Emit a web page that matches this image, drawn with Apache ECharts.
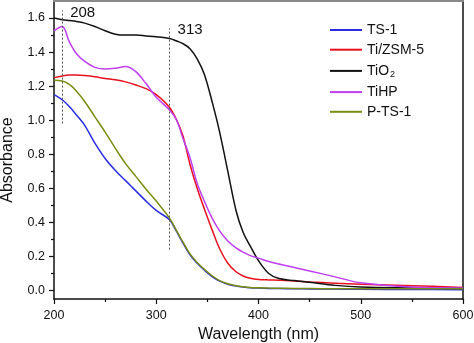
<!DOCTYPE html>
<html>
<head>
<meta charset="utf-8">
<script src="https://cdn.jsdelivr.net/npm/echarts@6/dist/echarts.min.js"></script>
<style>
  html, body { margin: 0; padding: 0; background: #fff; }
  #chart { width: 474px; height: 343px; }
</style>
</head>
<body>
<div id="chart"></div>
<script>
// UV-vis absorbance spectra of titanium-containing samples
const wavelength = [200, 208, 215, 222, 230, 240, 250, 260, 270, 280, 290, 300, 313, 320, 326, 333, 340, 347, 355, 362, 370, 378, 385, 392, 400, 410, 420, 435, 450, 475, 500, 550, 600];

const ts1    = [1.15, 1.12, 1.08, 1.03, 0.97, 0.865, 0.775, 0.705, 0.645, 0.585, 0.525, 0.47, 0.415, 0.345, 0.28, 0.21, 0.16, 0.12, 0.08, 0.055, 0.037, 0.026, 0.02, 0.016, 0.014, 0.012, 0.011, 0.01, 0.009, 0.008, 0.007, 0.006, 0.005];
const tiZsm5 = [1.25, 1.26, 1.265, 1.265, 1.262, 1.255, 1.245, 1.237, 1.225, 1.207, 1.185, 1.15, 1.075, 1.0, 0.91, 0.74, 0.60, 0.48, 0.35, 0.245, 0.16, 0.11, 0.085, 0.072, 0.065, 0.062, 0.06, 0.056, 0.05, 0.043, 0.037, 0.028, 0.018];
const tio2   = [1.60, 1.59, 1.585, 1.58, 1.57, 1.55, 1.525, 1.505, 1.50, 1.50, 1.495, 1.49, 1.48, 1.465, 1.45, 1.42, 1.36, 1.27, 1.10, 0.93, 0.70, 0.47, 0.34, 0.26, 0.175, 0.10, 0.07, 0.058, 0.048, 0.03, 0.02, 0.015, 0.012];
const tihp   = [1.525, 1.55, 1.46, 1.39, 1.345, 1.31, 1.30, 1.305, 1.315, 1.285, 1.215, 1.135, 1.06, 1.0, 0.895, 0.78, 0.63, 0.525, 0.42, 0.35, 0.29, 0.25, 0.225, 0.205, 0.19, 0.17, 0.155, 0.135, 0.115, 0.08, 0.045, 0.02, 0.015];
const pts1   = [1.235, 1.23, 1.21, 1.17, 1.11, 1.02, 0.93, 0.835, 0.745, 0.67, 0.595, 0.525, 0.425, 0.35, 0.285, 0.215, 0.165, 0.125, 0.085, 0.058, 0.04, 0.028, 0.022, 0.018, 0.016, 0.014, 0.013, 0.012, 0.011, 0.01, 0.01, 0.01, 0.01];

const seriesNames  = ['TS-1', 'Ti/ZSM-5', 'TiO2', 'TiHP', 'P-TS-1'];
const seriesColors = ['#2a2ee0', '#e8101e', '#111111', '#bf3ef0', '#7a8c12'];
const seriesValues = [ts1, tiZsm5, tio2, tihp, pts1];

// Marked absorption bands: wavelength, dotted line span, label height
const bandWavelength = [208, 313];
const bandLow  = [0.98, 0.24];
const bandHigh = [1.645, 1.54];
const bandLabelY = [1.632, 1.532];

const xTicks = [200, 300, 400, 500, 600];
const yTicks = [0, 0.2, 0.4, 0.6, 0.8, 1.0, 1.2, 1.4, 1.6];
const yMinorTicks = [0.1, 0.3, 0.5, 0.7, 0.9, 1.1, 1.3, 1.5];

const FONT = '"Liberation Sans", Arial, sans-serif';

const chart = echarts.init(document.getElementById('chart'), null, { renderer: 'canvas' });

const lineSeries = seriesNames.map((name, i) => ({
  name: name,
  type: 'line',
  data: wavelength.map((w, k) => [w, seriesValues[i][k]]),
  symbol: 'none',
  smooth: 0.35,
  lineStyle: { color: seriesColors[i], width: 1.5 },
  itemStyle: { color: seriesColors[i] },
  z: 3
}));

const bandSeries = {
  name: 'bands',
  type: 'line',
  data: [],
  silent: true,
  markLine: {
    silent: true,
    symbol: 'none',
    label: { show: false },
    lineStyle: { color: '#555', width: 1, type: [2, 2] },
    data: bandWavelength.map((w, i) => [{ coord: [w, bandLow[i]] }, { coord: [w, bandHigh[i]] }])
  },
  markPoint: {
    silent: true,
    symbol: 'circle',
    symbolSize: 0,
    label: {
      show: true,
      position: 'right',
      distance: 8,
      formatter: (p) => String(p.value),
      fontFamily: FONT,
      fontSize: 15,
      color: '#111'
    },
    data: bandWavelength.map((w, i) => ({ coord: [w, bandLabelY[i]], value: w }))
  }
};

chart.setOption({
  backgroundColor: '#fff',
  animation: false,
  grid: { left: 54, right: 11, top: 1, bottom: 44, containLabel: false, outerBoundsMode: 'none' },
  legend: {
    data: seriesNames,
    orient: 'vertical',
    left: 330,
    top: 23,
    padding: 0,
    itemWidth: 32,
    itemHeight: 2,
    itemGap: 5.7,
    icon: 'rect',
    formatter: (name) => name === 'TiO2' ? '{n|TiO}{s|2}' : '{n|' + name + '}',
    textStyle: {
      fontFamily: FONT,
      fontSize: 14,
      color: '#111',
      rich: {
        n: { fontFamily: FONT, fontSize: 14, color: '#111', lineHeight: 16 },
        s: { fontFamily: FONT, fontSize: 9, color: '#111', lineHeight: 16, padding: [8, 0, 0, 1] }
      }
    }
  },
  xAxis: [
    {
      type: 'value',
      min: 200,
      max: 600,
      interval: 100,
      name: 'Wavelength (nm)',
      nameLocation: 'middle',
      nameGap: 27,
      nameTextStyle: { fontFamily: FONT, fontSize: 16, color: '#111' },
      axisLine: { show: true, onZero: false, lineStyle: { color: '#111', width: 1.5 } },
      axisTick: { show: true, inside: false, length: 5, lineStyle: { color: '#111', width: 1.2 } },
      minorTick: { show: true, splitNumber: 2, length: 3, lineStyle: { color: '#111', width: 1.2 } },
      axisLabel: { fontFamily: FONT, fontSize: 12.5, color: '#111', margin: 10, customValues: xTicks },
      splitLine: { show: false },
      minorSplitLine: { show: false }
    },
    {
      type: 'value',
      position: 'top',
      min: 200,
      max: 600,
      axisLine: { show: true, onZero: false, lineStyle: { color: '#8a8a8a', width: 2 } },
      axisTick: { show: false },
      axisLabel: { show: false },
      splitLine: { show: false }
    }
  ],
  yAxis: [
    {
      type: 'value',
      min: -0.05,
      max: 1.7,
      position: 'left',
      name: 'Absorbance',
      nameLocation: 'middle',
      nameGap: 38,
      nameTextStyle: { fontFamily: FONT, fontSize: 16, color: '#111', padding: [0, 20, 0, 0] },
      axisLine: { show: true, onZero: false, lineStyle: { color: '#111', width: 1.5 } },
      axisTick: { show: true, inside: false, length: 5, customValues: yTicks, lineStyle: { color: '#111', width: 1.2 } },
      axisLabel: {
        customValues: yTicks,
        formatter: (v) => v.toFixed(1),
        fontFamily: FONT,
        fontSize: 12.5,
        color: '#111',
        margin: 9
      },
      splitLine: { show: false }
    },
    {
      type: 'value',
      min: -0.05,
      max: 1.7,
      position: 'left',
      axisLine: { show: false },
      axisTick: { show: true, inside: false, length: 3, customValues: yMinorTicks, lineStyle: { color: '#111', width: 1.2 } },
      axisLabel: { show: false },
      splitLine: { show: false }
    },
    {
      type: 'value',
      min: -0.05,
      max: 1.7,
      position: 'right',
      axisLine: { show: true, onZero: false, lineStyle: { color: '#111', width: 1.5 } },
      axisTick: { show: false },
      axisLabel: { show: false },
      splitLine: { show: false }
    }
  ],
  series: lineSeries.concat([bandSeries])
});
</script>
</body>
</html>
